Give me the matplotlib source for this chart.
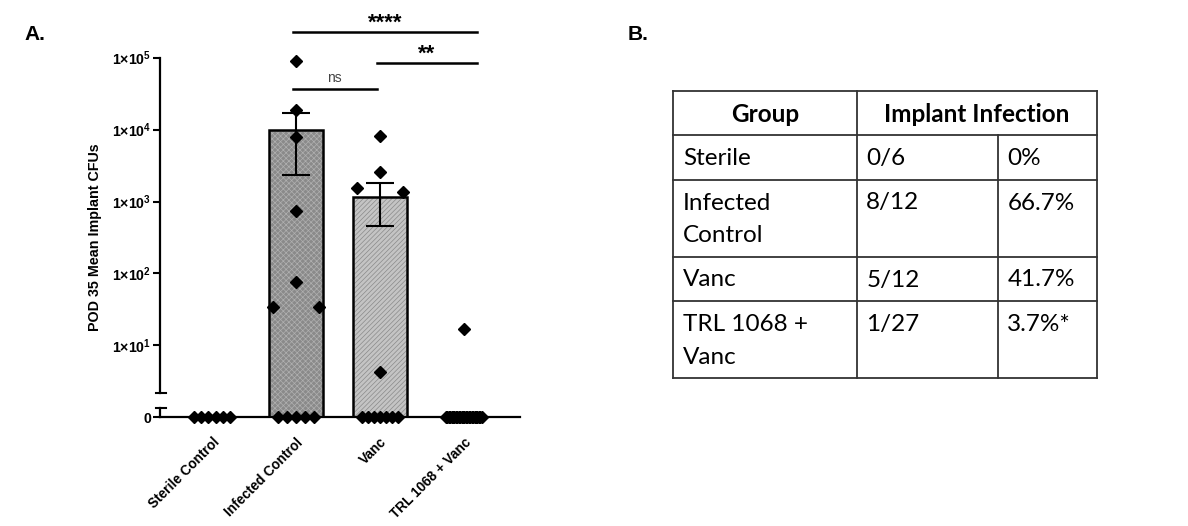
import numpy as np
import matplotlib
matplotlib.use("Agg")
import matplotlib.pyplot as plt
from matplotlib.lines import Line2D
from matplotlib.transforms import blended_transform_factory

# ---------------- data ----------------
groups = ["Sterile Control", "Infected Control", "Vanc", "TRL 1068 + Vanc"]
sterile_cfu = [0, 0, 0, 0, 0, 0]
infected_cfu = [90000, 18800, 8000, 743, 76, 34, 34, 0, 0, 0, 0, 0]
vanc_cfu = [8200, 2600, 1560, 1350, 4.3, 0, 0, 0, 0, 0, 0, 0]
trl_cfu = [17, 0, 0, 0, 0, 0, 0, 0, 0, 0, 0, 0, 0, 0,
           0, 0, 0, 0, 0, 0, 0, 0, 0, 0, 0, 0, 0]
ytick_values = [0, 10, 100, 1000, 10000, 100000]
ytick_labels = ["0", "1×10$^{1}$", "1×10$^{2}$", "1×10$^{3}$", "1×10$^{4}$", "1×10$^{5}$"]
comparisons = [(1, 2, "ns"), (2, 3, "**"), (1, 3, "****")]
ylabel = "POD 35 Mean Implant CFUs"

table_header = ["Group", "Implant Infection"]
table_groups = ["Sterile", "Infected\nControl", "Vanc", "TRL 1068 +\nVanc"]
table_counts = ["0/6", "8/12", "5/12", "1/27"]
table_pcts = ["0%", "66.7%", "41.7%", "3.7%*"]

# ---------------- styling ----------------
plt.rcParams["font.family"] = ["Liberation Sans", "DejaVu Sans"]
plt.rcParams["mathtext.fontset"] = "custom"
plt.rcParams["mathtext.rm"] = "Liberation Sans:bold"
plt.rcParams["mathtext.it"] = "Liberation Sans:bold"
plt.rcParams["mathtext.bf"] = "Liberation Sans:bold"
plt.rcParams["hatch.linewidth"] = 0.5
W, H = 1188, 526
fig = plt.figure(figsize=(W / 100, H / 100), dpi=100)

def fx(px):
    return px / W

def fy(py):
    return 1 - py / H

ax_l, ax_r, ax_t, ax_b = 160, 520, 57.7, 417.3
ax = fig.add_axes([fx(ax_l), fy(ax_b), fx(ax_r - ax_l), (ax_b - ax_t) / H])

def fwd(y):
    return np.log10(np.maximum(np.asarray(y, dtype=float), 1.0))

def inv(t):
    return np.power(10.0, np.asarray(t, dtype=float))

ax.set_yscale("function", functions=(fwd, inv))
ax.set_ylim(0, 1e5)
ax.set_xlim(-0.62, 3.67)

data = [sterile_cfu, infected_cfu, vanc_cfu, trl_cfu]
x = np.arange(len(groups))
means = np.array([float(np.mean(g)) for g in data])
sems = np.array([float(np.std(g, ddof=1) / np.sqrt(len(g))) for g in data])

bar_styles = [
    dict(color="white", hatch=None, hcolor="white"),
    dict(color="#8a8a8a", hatch="xxxxxx", hcolor="#b0b0b0"),
    dict(color="#c4c4c4", hatch="///////", hcolor="#8a8a8a"),
    dict(color="white", hatch=None, hcolor="white"),
]
bw = 0.64
for i in range(len(groups)):
    st = bar_styles[i]
    ax.bar(x[i], means[i], width=bw, bottom=0, color=st["color"],
           hatch=st["hatch"], edgecolor=st["hcolor"], linewidth=0, zorder=1)
    ax.bar(x[i], means[i], width=bw, bottom=0, fill=False,
           edgecolor="black", linewidth=1.8, zorder=2)

# error bars (mean ± SEM); those lying entirely in the "0" segment are not visible
vis = (means + sems) >= 2.2
ax.errorbar(x[vis], means[vis], yerr=sems[vis], fmt="none", ecolor="black",
            elinewidth=1.5, capsize=10, capthick=1.5, zorder=3)

# swarm layout for points
MARKER_PX = 12
ZERO_ROW_WIDTH = 36
ZERO_GAP_MAX = 11.5
CLUSTER_GAP = 46

def swarm(vals, center):
    vals = np.asarray(vals, dtype=float)
    pts = ax.transData.transform(np.column_stack([np.full(len(vals), float(center)), vals]))
    pix = pts[:, 1]
    ppu = ax.transData.transform((1, 1))[0] - ax.transData.transform((0, 1))[0]
    offs = np.zeros(len(vals))
    zero = vals <= 0
    nz = int(np.count_nonzero(zero))
    if nz > 1:
        gap = min(ZERO_GAP_MAX, ZERO_ROW_WIDTH / (nz - 1))
        offs[zero] = (np.arange(nz) - (nz - 1) / 2) * gap
    idx = np.where(~zero)[0]
    order = idx[np.argsort(pix[idx])]
    clusters = []
    for i in order:
        if clusters and pix[i] - pix[clusters[-1][-1]] < MARKER_PX:
            clusters[-1].append(i)
        else:
            clusters.append([i])
    for c in clusters:
        c = sorted(c, key=lambda j: -vals[j])
        k = len(c)
        offs[c] = (np.arange(k) - (k - 1) / 2) * CLUSTER_GAP
    return center + offs / ppu

for i, g in enumerate(data):
    xs = swarm(g, x[i])
    ax.plot(xs, g, linestyle="none", marker="D", ms=6.4, color="black",
            zorder=5, clip_on=False)

# axes styling
for s in ["top", "right"]:
    ax.spines[s].set_visible(False)
ax.spines["left"].set_linewidth(1.6)
ax.spines["bottom"].set_linewidth(1.6)
ax.spines["left"].set_bounds(2.2, 1e5)
ax.set_yticks(ytick_values, ytick_labels)
ax.yaxis.set_minor_locator(matplotlib.ticker.NullLocator())
ax.tick_params(axis="y", length=5, width=1.5, pad=1.5, labelsize=10.2)
for lab in ax.get_yticklabels():
    lab.set_fontweight("bold")
ax.set_xticks(x, groups)
ax.tick_params(axis="x", length=0, pad=13)
for lab in ax.get_xticklabels():
    lab.set_rotation(45)
    lab.set_ha("right")
    lab.set_rotation_mode("anchor")
    lab.set_fontsize(9.8)
    lab.set_fontweight("bold")

ax.set_ylabel(ylabel, fontsize=10.3, fontweight="bold")
ax.yaxis.set_label_coords(-0.18, 0.5)
ax.yaxis.label.set_va("center")

# axis break caps
ytr = blended_transform_factory(ax.transAxes, ax.transData)
cap = 8 / (ax_r - ax_l)
ax.add_line(Line2D([-cap / 2, cap / 2 + 0.005], [2.2, 2.2], transform=ytr,
                   color="black", lw=1.5, clip_on=False))
ax.add_line(Line2D([0, 0], [0, 1.33], transform=ytr, color="black",
                   lw=1.6, clip_on=False))
ax.add_line(Line2D([-cap / 2, cap / 2 + 0.005], [1.33, 1.33], transform=ytr,
                   color="black", lw=1.5, clip_on=False))

# significance bars
sig_tr = blended_transform_factory(ax.transData, ax.transAxes)
sig_y = {"ns": 0.912, "**": 0.986, "****": 1.0723}
for a, b, lab in comparisons:
    yl = sig_y[lab]
    x0 = x[a] - 0.04
    x1 = x[b] + (0.16 if b == 3 else -0.04)
    ax.add_line(Line2D([x0, x1], [yl, yl], transform=sig_tr, color="black",
                       lw=1.8, clip_on=False))
    if lab == "ns":
        ax.text((x0 + x1) / 2, yl + 0.012, lab, transform=sig_tr, ha="center",
                va="bottom", fontsize=10, color="#444444")
    else:
        ax.text((x0 + x1) / 2, yl - 0.006, lab, transform=sig_tr, ha="center",
                va="bottom", fontsize=16, fontweight="bold")

# panel labels
fig.text(fx(24), fy(35), "A.", fontsize=15, fontweight="bold", va="center")
fig.text(fx(628), fy(35), "B.", fontsize=15, fontweight="bold", va="center")

# ---------------- table ----------------
tfont = ["Lato", "DejaVu Sans"]
t_left, t_right = 673, 1097
c1, c2 = 857.3, 998.3
top = 90.7
header_h = 44.3
pad_h, line_h = 12, 32.5
lc = "#333333"
lw = 1.3

def hline(y, xa, xb):
    fig.add_artist(Line2D([fx(xa), fx(xb)], [fy(y), fy(y)], color=lc, lw=lw))

def vline(xp, ya, yb):
    fig.add_artist(Line2D([fx(xp), fx(xp)], [fy(ya), fy(yb)], color=lc, lw=lw))

tsize = 17.5
fig.text(fx((t_left + c1) / 2), fy(top + 24.3), table_header[0], ha="center",
         va="center", fontsize=tsize, fontweight="bold", family=tfont)
fig.text(fx((c1 + t_right) / 2), fy(top + 24.3), table_header[1], ha="center",
         va="center", fontsize=tsize, fontweight="bold", family=tfont)

row_tops = []
y = top + header_h
for gname, cnt, pct in zip(table_groups, table_counts, table_pcts):
    row_tops.append(y)
    nlines = gname.count("\n") + 1
    for cx, txt in [(t_left + 10, gname), (c1 + 9, cnt), (c2 + 9, pct)]:
        for li, part in enumerate(txt.split("\n")):
            fig.text(fx(cx), fy(y + 23.5 + line_h * li), part, ha="left",
                     va="center", fontsize=tsize, family=tfont)
    y += pad_h + line_h * nlines
bottom = y

hline(top, t_left, t_right)
for rt in row_tops:
    hline(rt, t_left, t_right)
hline(bottom, t_left, t_right)
vline(t_left, top, bottom)
vline(t_right, top, bottom)
vline(c1, top, bottom)
vline(c2, top + header_h, bottom)

fig.savefig("out.png", dpi=100)
